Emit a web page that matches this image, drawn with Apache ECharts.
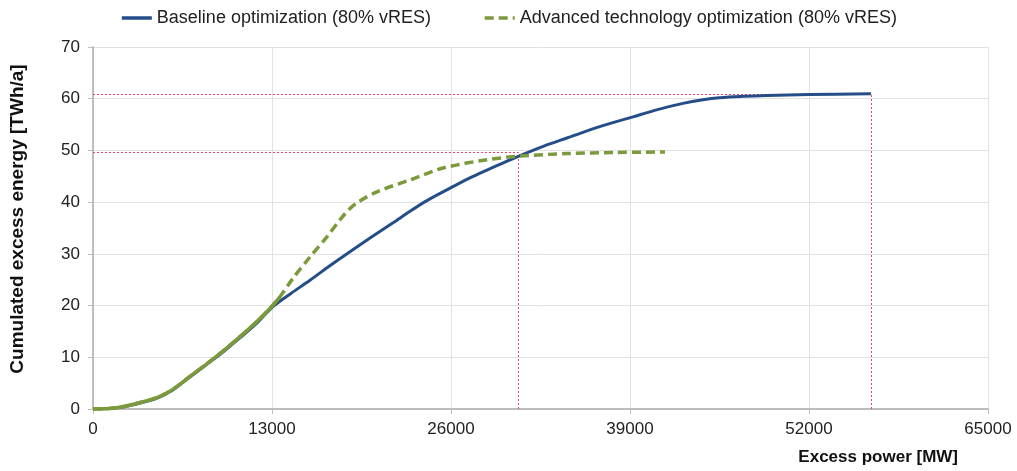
<!DOCTYPE html>
<html>
<head>
<meta charset="utf-8">
<script src="https://cdn.jsdelivr.net/npm/echarts@6/dist/echarts.min.js"></script>
<style>
  html, body { margin: 0; padding: 0; background: #fff; }
  #chart { width: 1017px; height: 471px; }
</style>
</head>
<body>
<div id="chart"></div>
<script>
// Excess power [MW] vs cumulated excess energy [TWh/a]
const baselineName = 'Baseline optimization (80% vRES)';
const advancedName = 'Advanced technology optimization (80% vRES)';

const baselinePower = [0, 1000, 2180, 3500, 4650, 5800, 7040, 8200, 9440, 10600, 11900, 13070, 14400, 15760, 17200, 18660, 20200, 21790, 23000, 24250, 26070, 27300, 28610, 29800, 31010, 32700, 34420, 36800, 39220, 41000, 42850, 44300, 45500, 47000, 48950, 52000, 56500];
const baselineEnergy = [0, 0.05, 0.4, 1.2, 2.1, 3.7, 6.2, 8.5, 11.0, 13.6, 16.6, 19.8, 22.4, 24.9, 27.7, 30.4, 33.2, 36.0, 38.2, 40.3, 42.9, 44.6, 46.2, 47.6, 49.0, 50.8, 52.4, 54.6, 56.5, 57.9, 59.1, 59.8, 60.2, 60.45, 60.6, 60.8, 60.95];

const advancedPower = [0, 1000, 2180, 3500, 4650, 5800, 7040, 8200, 9440, 10600, 11900, 12800, 13580, 14530, 15760, 16990, 17940, 18600, 19300, 20630, 23020, 25420, 28610, 31010, 34420, 38000, 41540];
const advancedEnergy = [0, 0.05, 0.45, 1.3, 2.2, 3.8, 6.3, 8.6, 11.2, 13.8, 16.9, 19.3, 21.7, 25.3, 29.4, 33.3, 36.6, 38.6, 40.1, 42.0, 44.3, 46.6, 48.2, 48.9, 49.4, 49.6, 49.7];

// the advanced curve is drawn solid where it still follows the baseline
const advancedSolidUntil = 13580;

// dotted guide lines marking the plateau of each curve: [power, energy]
const guidePoints = [[30900, 49.6], [56500, 60.9]];

const xTicks = [0, 13000, 26000, 39000, 52000, 65000];
const yTicks = [0, 10, 20, 30, 40, 50, 60, 70];

const pairs = (xs, ys) => xs.map((x, i) => [x, ys[i]]);
const baselineData = pairs(baselinePower, baselineEnergy);
const advancedData = pairs(advancedPower, advancedEnergy);
const advancedSolid = advancedData.filter(p => p[0] <= advancedSolidUntil);

const guideColor = '#f2426a';
const guideStyle = { color: guideColor, width: 1, type: [2, 2], opacity: 1 };
const guideLines = [];
guidePoints.forEach(([px, py]) => {
  guideLines.push([{ coord: [0, py], lineStyle: guideStyle }, { coord: [px, py] }]);
  guideLines.push([{ coord: [px, 0], lineStyle: guideStyle }, { coord: [px, py] }]);
});

const blue = '#254d88';
const green = '#7b9a3c';
const font = 'Liberation Sans, Arial, sans-serif';

const chart = echarts.init(document.getElementById('chart'), null, { renderer: 'canvas' });
chart.setOption({
  animation: false,
  backgroundColor: '#fff',
  textStyle: { fontFamily: font },
  legend: {
    top: 4,
    left: 'center',
    data: [baselineName, advancedName],
    itemWidth: 30,
    itemHeight: 10,
    itemGap: 52,
    itemStyle: { opacity: 0 },
    lineStyle: { width: 3.5 },
    textStyle: { fontSize: 18, color: '#222', fontFamily: font }
  },
  grid: { left: 93, right: 29, top: 47, bottom: 62, containLabel: false, outerBoundsMode: 'none' },
  xAxis: {
    type: 'value',
    min: xTicks[0],
    max: xTicks[xTicks.length - 1],
    interval: xTicks[1] - xTicks[0],
    name: 'Excess power [MW]',
    nameLocation: 'end',
    nameGap: -30,
    nameTextStyle: {
      fontSize: 17, fontWeight: 'bold', color: '#111', fontFamily: font,
      align: 'right', verticalAlign: 'top', padding: [40, 0, 0, 0]
    },
    axisLine: { show: true, lineStyle: { color: '#bdbdbd', width: 2 } },
    axisTick: { show: true, length: 5, lineStyle: { color: '#bdbdbd' } },
    axisLabel: { fontSize: 17, color: '#222', margin: 12, fontFamily: font, formatter: v => String(v) },
    splitLine: { show: true, lineStyle: { color: '#e2e2e2', width: 1 } }
  },
  yAxis: {
    type: 'value',
    min: yTicks[0],
    max: yTicks[yTicks.length - 1],
    interval: yTicks[1] - yTicks[0],
    name: 'Cumulated excess energy [TWh/a]',
    nameLocation: 'middle',
    nameGap: 66,
    nameRotate: 90,
    nameTextStyle: {
      fontSize: 19, fontWeight: 'bold', color: '#111', fontFamily: font,
      padding: [0, 0, 0, 18]
    },
    axisLine: { show: true, lineStyle: { color: '#bdbdbd', width: 2 } },
    axisTick: { show: true, length: 5, lineStyle: { color: '#bdbdbd' } },
    axisLabel: { fontSize: 17, color: '#222', margin: 13, fontFamily: font, formatter: v => String(v) },
    splitLine: { show: true, lineStyle: { color: '#e2e2e2', width: 1 } }
  },
  series: [
    {
      name: baselineName,
      type: 'line',
      data: baselineData,
      smooth: 0.3,
      symbol: 'none',
      lineStyle: { color: blue, width: 3 },
      itemStyle: { color: blue },
      z: 3,
      markLine: {
        silent: true,
        symbol: 'none',
        label: { show: false },
        lineStyle: guideStyle,
        emphasis: { disabled: true },
        data: guideLines,
        z: 2
      }
    },
    {
      name: advancedName,
      type: 'line',
      data: advancedData,
      smooth: 0.3,
      symbol: 'none',
      lineStyle: { color: green, width: 3.5, type: [9, 5] },
      itemStyle: { color: green },
      z: 4
    },
    {
      name: advancedName + ' ',
      type: 'line',
      data: advancedSolid,
      smooth: 0.3,
      symbol: 'none',
      lineStyle: { color: green, width: 3.5 },
      itemStyle: { color: green },
      z: 5
    }
  ]
});
</script>
</body>
</html>
